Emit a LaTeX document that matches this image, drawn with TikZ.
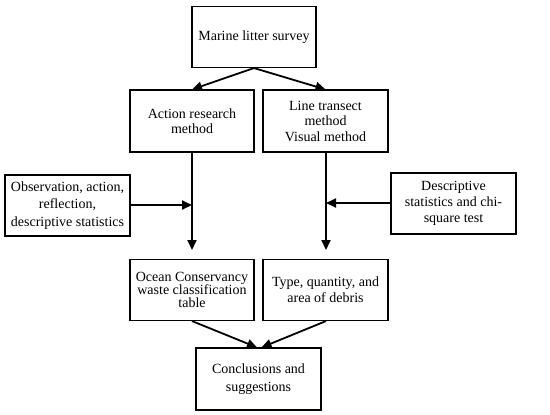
\documentclass[tikz,border=0pt]{standalone}
\usepackage{fontspec}
\setmainfont{Liberation Serif}
\usetikzlibrary{arrows.meta}
\begin{document}
\begin{tikzpicture}[x=1pt,y=-1pt,
  box/.style={draw,line width=1.1pt,minimum width=124pt,minimum height=61pt,inner sep=0pt,align=center,font=\fontsize{14}{15.5}\selectfont},
  arr/.style={line width=1.8pt,-{Triangle[length=10pt,width=9pt]}}]
\useasboundingbox (0,0) rectangle (550,415);
\node[box] (top) at (254,37) {Marine litter survey};
\node[box,minimum height=62pt] (act) at (192,121) {Action research\\method};
\node[box,minimum width=125pt,minimum height=62pt] (line) at (325.5,121) {Line transect\\method\\Visual method};
\node[box,minimum width=125pt,font=\fontsize{14}{17.5}\selectfont] (left) at (67.5,205.5) {Observation, action,\\reflection,\\descriptive statistics};
\node[box,minimum width=125pt,font=\fontsize{14}{16}\selectfont] (right) at (453.5,203.5) {Descriptive\\statistics and chi-\\square test};
\node[box,font=\fontsize{14}{13}\selectfont] (ocean) at (192,290) {Ocean Conservancy\\waste classification\\table};
\node[box,minimum width=125pt,font=\fontsize{14}{16}\selectfont] (type) at (325.5,290) {Type, quantity, and\\area of debris};
\node[box,minimum width=125pt,minimum height=62pt,font=\fontsize{14}{17.5}\selectfont] (concl) at (258.5,379) {Conclusions and\\suggestions};
\coordinate (aend) at (192,250);
\coordinate (lend) at (326,250);
\coordinate (ajoin) at (192,205);
\coordinate (ljoin) at (326,203);
\draw[arr] (top.south) -- (act.north);
\draw[arr] (top.south) -- (line.north);
\draw[arr] (act.south) -- (aend);
\draw[arr] (line.south -| lend) -- (lend);
\draw[arr] (left.east |- ajoin) -- (ajoin);
\draw[arr] (right.west |- ljoin) -- (ljoin);
\draw[arr] (ocean.south) -- ([xshift=-1.5pt]concl.north);
\draw[arr] (type.south -| lend) -- ([xshift=3pt]concl.north);
\end{tikzpicture}
\end{document}
